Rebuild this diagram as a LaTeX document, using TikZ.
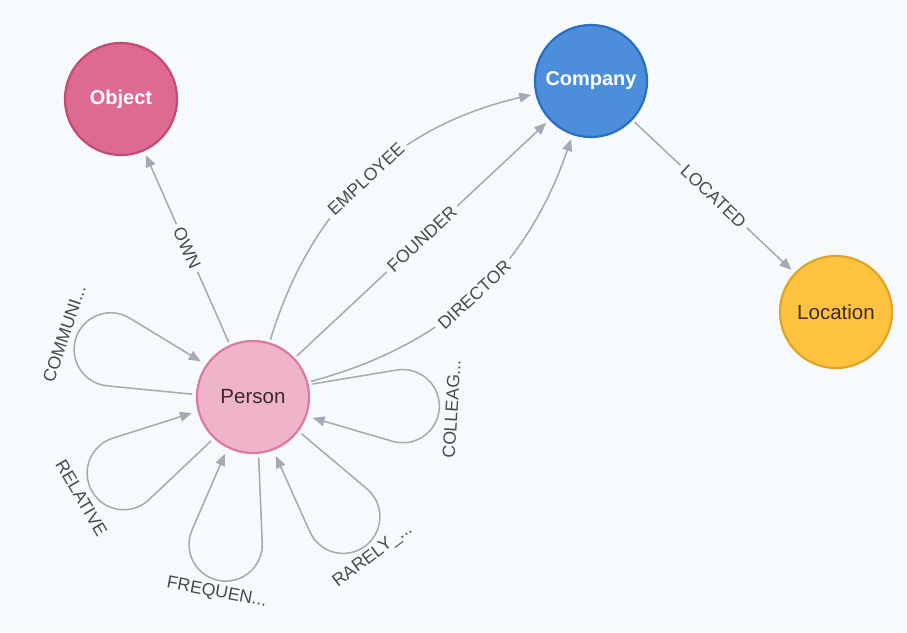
\documentclass[tikz,border=0pt]{standalone}
\usepackage{fontspec}
\setmainfont{Liberation Sans}
\usetikzlibrary{arrows.meta,calc}

\definecolor{bg}{HTML}{F7FAFC}
\definecolor{edgegray}{HTML}{A5ABB6}
\definecolor{labelgray}{HTML}{4A4A4A}
\definecolor{objfill}{HTML}{DC6B8F}
\definecolor{objline}{HTML}{C74A76}
\definecolor{compfill}{HTML}{4C8EDA}
\definecolor{compline}{HTML}{2A6FC2}
\definecolor{locfill}{HTML}{FFC23F}
\definecolor{locline}{HTML}{DDA52A}
\definecolor{persfill}{HTML}{EFB3CA}
\definecolor{persline}{HTML}{DC7BA0}
\definecolor{darktext}{HTML}{3A2A30}

% self relationship of the Person node: teardrop loop around axis #1,
% caption rotated by #2, caption node named #3, caption text #4
\newcommand\personloop[4]{%
  \draw[rel] ([shift={(#1+16:58)}]P.center)
    -- ([shift={(#1+14.12:146.2)}]P.center)
    arc[start angle=#1+103, end angle=#1-103, radius=36.6]
    -- ([shift={(#1-16:59)}]P.center);
  \node[looplabel, rotate=#2] (#3) at ([shift={(#1:199)}]P.center) {#4};
}

\begin{document}
\begin{tikzpicture}[x=0.025cm,y=0.025cm,
  entity/.style={circle, minimum size=2.8cm, inner sep=0pt, line width=1.6pt},
  rel/.style={draw=edgegray, line width=1.1pt,
    -{Triangle[length=8.5pt,width=7pt]}, shorten <=2pt, shorten >=3pt},
  rellabel/.style={font=\fontsize{12.6}{14}\selectfont, text=labelgray,
    fill=bg, inner xsep=3pt, inner ysep=1pt, sloped},
  looplabel/.style={font=\fontsize{12.6}{14}\selectfont, text=labelgray}
]
\fill[bg] (0,0) rectangle (907,-632);
\useasboundingbox (0,0) rectangle (907,-632);

% entities
\node[entity, fill=objfill, draw=objline, text=white,
  font=\bfseries\fontsize{14.2}{16}\selectfont] (O) at (121,-99) {Object};
\node[entity, fill=compfill, draw=compline, text=white,
  font=\bfseries\fontsize{14.2}{16}\selectfont] (C) at (591,-81) {Company};
\node[entity, fill=locfill, draw=locline, text=darktext,
  font=\fontsize{14.6}{16}\selectfont] (L) at (836,-312) {Location};
\node[entity, fill=persfill, draw=persline, text=darktext,
  font=\fontsize{14.6}{16}\selectfont] (P) at (253,-397) {Person};

% relationships between entities
\draw[rel] (P) -- node[rellabel] (lown) {OWN} (O);
\draw[rel] (P) to[bend left=30] node[rellabel] (lemp) {EMPLOYEE} (C);
\draw[rel] (P) -- node[rellabel] (lfou) {FOUNDER} (C);
\draw[rel] (P) to[bend right=28] node[rellabel] (ldir) {DIRECTOR} (C);
\draw[rel] (C) -- node[rellabel] (lloc) {LOCATED} (L);

% relationships of Person with itself
\personloop{161.5}{71.5}{lcom}{COMMUNI...}
\personloop{210.5}{300.5}{lrel}{RELATIVE}
\personloop{259.5}{349.5}{lfre}{FREQUEN...}
\personloop{307}{37}{lrar}{RARELY\_...}
\personloop{356.5}{86.5}{lcol}{COLLEAG...}
\end{tikzpicture}
\end{document}
